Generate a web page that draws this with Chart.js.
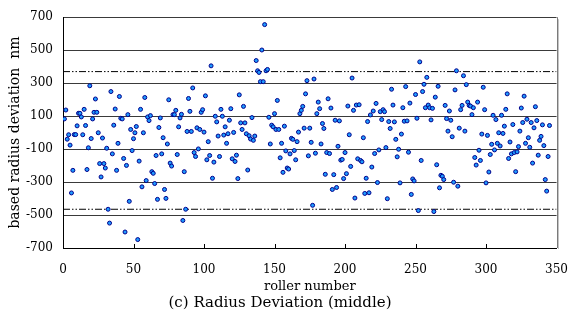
<!DOCTYPE html>
<html><head><meta charset="utf-8">
<script src="https://cdn.jsdelivr.net/npm/chart.js@4.4.1/dist/chart.umd.min.js"></script>
<style>html,body{margin:0;padding:0;background:#fff}#wrap{width:583px;height:315px}</style>
</head><body><div id="wrap"><canvas id="c" width="583" height="315"></canvas></div>
<script>
// based radius deviation (nm) for roller numbers 1..345
const radiusDeviation = [
  83,137,-40,-13,-76,-366,-229,-12,-12,41,
  117,117,95,-13,141,43,-224,-92,284,-36,
  83,123,204,123,-1,-188,-269,-33,-188,-215,
  -95,-465,-549,249,-129,45,143,-229,-65,219,
  87,83,-157,-603,-199,109,-417,19,-109,-37,
  -1,37,-649,-173,141,-329,-1,213,-291,95,
  73,103,-237,-247,-309,-139,-405,31,89,-129,
  -31,-345,-399,-69,199,-185,-203,109,109,135,
  -133,35,89,111,-533,-237,-465,7,207,129,
  7,271,-121,-145,29,-99,19,123,139,3,
  223,-165,-55,-139,405,-277,-179,99,65,-21,
  -145,141,99,-15,35,-65,-7,75,145,-159,
  1,-175,-137,-279,229,59,19,159,59,-7,
  -227,-19,-39,91,-47,-21,437,375,365,309,
  501,309,655,375,383,93,-69,45,35,115,
  19,195,19,-153,-65,-241,39,-111,-215,-221,
  -129,-35,-41,-109,-165,-55,3,115,135,159,
  27,235,315,-141,27,-59,-441,325,-125,115,
  185,145,-69,55,25,-253,-121,205,-127,149,
  -345,-255,75,-333,-83,71,-167,-163,-279,-121,
  -249,161,-13,-205,331,135,-397,167,-159,169,
  -169,-177,-31,-369,-277,67,-365,107,-209,131,
  -127,177,-303,-105,127,79,139,127,-91,-401,
  67,25,263,167,65,-41,-147,-101,-305,-9,
  151,69,279,71,-119,179,-375,-281,-293,231,
  87,-473,429,-169,249,293,151,335,167,151,
  77,147,-479,215,-195,281,-335,-259,-265,-285,
  165,85,9,131,75,-25,-301,259,375,-325,
  27,139,165,345,9,291,185,165,161,109,
  151,-151,-197,185,-107,-169,-9,275,139,-305,
  -17,-239,-133,-71,105,-105,79,-65,-1,-81,
  105,-5,39,141,235,-157,-57,-129,49,-121,
  -237,-117,-85,9,149,61,221,-65,81,-31,
  -89,61,-185,29,157,73,-137,-47,-23,47,
  -79,-285,-355,-145,43
];
const upperLimit = 370;
const lowerLimit = -465;
const xTicks = [0,50,100,150,200,250,300,350];
const yTicks = [-700,-500,-300,-100,100,300,500,700];
const xTitle = 'roller number';
const yTitle = 'based radius deviation  nm';
const caption = '(c) Radius Deviation (middle)';

const serif = 'DejaVu Serif';

const framePlugin = {
  id: 'frame',
  afterDatasetsDraw(chart) {
    const {ctx, chartArea: a, scales: {x}} = chart;
    ctx.save();
    // right frame
    ctx.strokeStyle = '#7a7a7a';
    ctx.lineWidth = 1;
    ctx.beginPath();
    ctx.moveTo(Math.round(a.right) + 0.5, a.top);
    ctx.lineTo(Math.round(a.right) + 0.5, a.bottom);
    ctx.stroke();
    ctx.strokeStyle = '#c4c4c4';
    ctx.beginPath();
    ctx.moveTo(Math.round(a.right) + 1.5, a.top + 2);
    ctx.lineTo(Math.round(a.right) + 1.5, a.bottom + 1);
    ctx.stroke();
    // inner tick marks on x axis
    ctx.strokeStyle = '#000';
    xTicks.forEach(v => {
      if (v === xTicks[0] || v === xTicks[xTicks.length - 1]) return;
      const px = Math.round(x.getPixelForValue(v)) + 0.5;
      ctx.beginPath();
      ctx.moveTo(px, a.bottom);
      ctx.lineTo(px, a.bottom - 4);
      ctx.stroke();
    });
    ctx.restore();
  }
};

new Chart(document.getElementById('c'), {
  type: 'scatter',
  data: {
    datasets: [
      {
        label: 'deviation',
        data: radiusDeviation.map((v, i) => ({x: i + 1, y: v})),
        pointRadius: 2,
        pointBackgroundColor: '#1e9bff',
        pointBorderColor: '#00008b',
        pointBorderWidth: 1,
        showLine: false
      },
      {
        type: 'line',
        data: [{x: xTicks[0], y: upperLimit}, {x: xTicks[xTicks.length - 1], y: upperLimit}],
        borderColor: '#000', borderWidth: 1, borderDash: [7, 2, 1.5, 2, 1.5, 2],
        pointRadius: 0, fill: false
      },
      {
        type: 'line',
        data: [{x: xTicks[0], y: lowerLimit}, {x: xTicks[xTicks.length - 1], y: lowerLimit}],
        borderColor: '#000', borderWidth: 1, borderDash: [7, 2, 1.5, 2, 1.5, 2],
        pointRadius: 0, fill: false
      }
    ]
  },
  options: {
    responsive: false,
    animation: false,
    devicePixelRatio: 1,
    layout: {padding: {top: 16, right: 23, left: 0, bottom: 0}},
    plugins: {
      legend: {display: false},
      tooltip: {enabled: false},
      title: {
        display: true, position: 'bottom', text: caption, color: '#000',
        font: {family: serif, size: 15, weight: 'normal'},
        padding: {top: 0, bottom: 3}
      }
    },
    scales: {
      x: {
        type: 'linear', min: 0, max: 350,
        afterBuildTicks: s => { s.ticks = xTicks.map(v => ({value: v})); },
        grid: {display: false, drawTicks: false},
        border: {display: true, color: '#000', width: 1},
        ticks: {padding: 15, color: '#000', font: {family: serif, size: 12}},
        title: {display: true, text: xTitle, color: '#000', font: {family: serif, size: 13}, padding: {top: 0, bottom: 0}},
        afterFit: s => { s.height = 46; }
      },
      y: {
        min: -700, max: 700,
        afterBuildTicks: s => { s.ticks = yTicks.map(v => ({value: v})); },
        grid: {color: '#3a3a3a', lineWidth: 1, drawTicks: false},
        border: {display: true, color: '#000', width: 1},
        ticks: {padding: 10, color: '#000', font: {family: serif, size: 12}},
        title: {display: true, text: yTitle, color: '#000', font: {family: serif, size: 14}, padding: {top: 7, bottom: 0}},
        afterFit: s => { s.width = 63; }
      }
    }
  },
  plugins: [framePlugin]
});
</script>
</body></html>
